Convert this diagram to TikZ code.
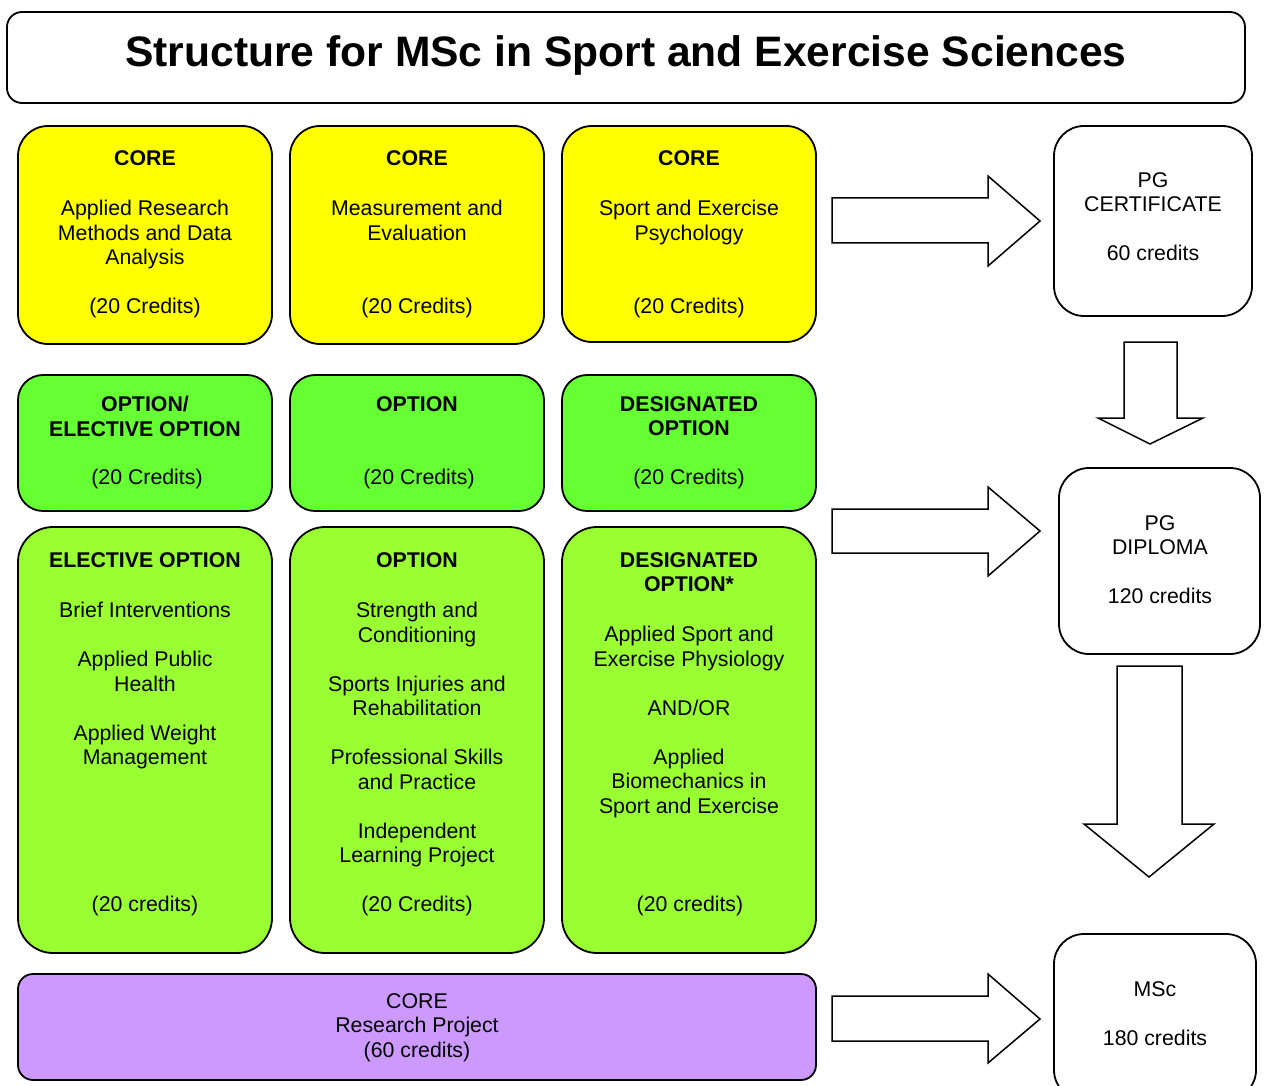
\documentclass[tikz,border=0pt]{standalone}
\usepackage{fontspec}
\setmainfont{Liberation Sans}
\newcommand\bodyfont{\fontsize{21.3}{24.5}\selectfont}
\definecolor{coreyellow}{HTML}{FFFF00}
\definecolor{optgreen}{HTML}{66FF33}
\definecolor{modgreen}{HTML}{99FF33}
\definecolor{projpurple}{HTML}{CC99FF}
\begin{document}
\begin{tikzpicture}[x=1pt,y=-1pt,
  box/.style={draw=black, line width=1.8pt, rounded corners=#1, shape=rectangle, inner sep=0pt},
  box/.default=30pt,
  hd/.style={font=\bodyfont\bfseries, anchor=north, align=center, inner sep=0pt},
  tx/.style={font=\bodyfont, anchor=north, align=center, inner sep=0pt},
  blockarrow/.style={draw=black, line width=1.5pt, fill=white, line join=miter}]
\useasboundingbox (0,0) rectangle (1264,1086);

% title
\node[box=15pt, minimum width=1238pt, minimum height=91pt] (title) at (626,57.5) {};
\node[font=\bfseries\fontsize{42.6}{48}\selectfont, anchor=base, inner sep=0pt] (titletext) at (626,67) {Structure for MSc in Sport and Exercise Sciences};

% core modules
\node[box=30pt, fill=coreyellow, minimum width=254pt, minimum height=218pt] (c1) at (145,235) {};
\node[box=30pt, fill=coreyellow, minimum width=254pt, minimum height=218pt] (c2) at (417,235) {};
\node[box=30pt, fill=coreyellow, minimum width=254pt, minimum height=216pt] (c3) at (689,234) {};
\node[hd] (c1h) at (145,150.3) {CORE};
\node[tx] (c1b) at (145,200.3) {Applied Research\\Methods and Data\\Analysis};
\node[tx] (c1c) at (145,298.3) {(20 Credits)};
\node[hd] (c2h) at (417,150.3) {CORE};
\node[tx] (c2b) at (417,200.3) {Measurement and\\Evaluation};
\node[tx] (c2c) at (417,298.3) {(20 Credits)};
\node[hd] (c3h) at (689,150.3) {CORE};
\node[tx] (c3b) at (689,200.3) {Sport and Exercise\\Psychology};
\node[tx] (c3c) at (689,298.3) {(20 Credits)};

% option row
\node[box=25pt, fill=optgreen, minimum width=254pt, minimum height=136pt] (o1) at (145,443) {};
\node[box=25pt, fill=optgreen, minimum width=254pt, minimum height=136pt] (o2) at (417,443) {};
\node[box=25pt, fill=optgreen, minimum width=254pt, minimum height=136pt] (o3) at (689,443) {};
\node[hd] (o1h) at (145,396.3) {OPTION/\\ELECTIVE OPTION};
\node[tx] (o1c) at (147,469.3) {(20 Credits)};
\node[hd] (o2h) at (417,396.3) {OPTION};
\node[tx] (o2c) at (419,469.3) {(20 Credits)};
\node[hd] (o3h) at (689,396.3) {DESIGNATED\\OPTION};
\node[tx] (o3c) at (689,469.3) {(20 Credits)};

% module lists
\node[box=35pt, fill=modgreen, minimum width=254pt, minimum height=426pt] (m1) at (145,740) {};
\node[box=35pt, fill=modgreen, minimum width=254pt, minimum height=426pt] (m2) at (417,740) {};
\node[box=35pt, fill=modgreen, minimum width=254pt, minimum height=426pt] (m3) at (689,740) {};
\node[hd] (m1h) at (145,552.3) {ELECTIVE OPTION};
\node[tx] (m1b) at (145,602.3) {Brief Interventions\\[24.5pt]Applied Public\\Health\\[24.5pt]Applied Weight\\Management};
\node[tx] (m1c) at (145,896.3) {(20 credits)};
\node[hd] (m2h) at (417,552.3) {OPTION};
\node[tx] (m2b) at (417,602.3) {Strength and\\Conditioning\\[24.5pt]Sports Injuries and\\Rehabilitation\\[24.5pt]Professional Skills\\and Practice\\[24.5pt]Independent\\Learning Project};
\node[tx] (m2c) at (417,896.3) {(20 Credits)};
\node[hd] (m3h) at (689,552.3) {DESIGNATED\\OPTION*};
\node[tx] (m3b) at (689,626.3) {Applied Sport and\\Exercise Physiology\\[24.5pt]AND/OR\\[24.5pt]Applied\\Biomechanics in\\Sport and Exercise};
\node[tx] (m3c) at (690,896.3) {(20 credits)};

% research project
\node[box=15pt, fill=projpurple, minimum width=798pt, minimum height=106pt] (proj) at (417,1027) {};
\node[tx] (projt) at (417,993.3) {CORE\\Research Project\\(60 credits)};

% awards
\node[box=30pt, minimum width=198pt, minimum height=190pt] (cert) at (1153,221) {};
\node[tx] (certt) at (1153,172.3) {PG\\CERTIFICATE\\[24.5pt]60 credits};
\node[box=30pt, minimum width=201pt, minimum height=186pt] (dip) at (1159.5,561) {};
\node[tx] (dipt) at (1160,515.3) {PG\\DIPLOMA\\[24.5pt]120 credits};
\node[box=30pt, minimum width=202pt, minimum height=166pt] (msc) at (1155,1017) {};
\node[tx] (msct) at (1155,981.3) {MSc\\[24.5pt]180 credits};

% block arrows towards the awards
\draw[blockarrow] (832,198) -- (988,198) -- (988,176) -- (1040,221) -- (988,266) -- (988,243) -- (832,243) -- cycle;
\draw[blockarrow] (832,509) -- (988,509) -- (988,487) -- (1040,531) -- (988,576) -- (988,553) -- (832,553) -- cycle;
\draw[blockarrow] (832,996) -- (988,996) -- (988,974) -- (1040,1019) -- (988,1063) -- (988,1041) -- (832,1041) -- cycle;
\draw[blockarrow] (1124,342) -- (1177,342) -- (1177,418) -- (1203,418) -- (1150,444) -- (1098,418) -- (1124,418) -- cycle;
\draw[blockarrow] (1117,666) -- (1182,666) -- (1182,824) -- (1214,824) -- (1149,877) -- (1084,824) -- (1117,824) -- cycle;
\end{tikzpicture}
\end{document}
